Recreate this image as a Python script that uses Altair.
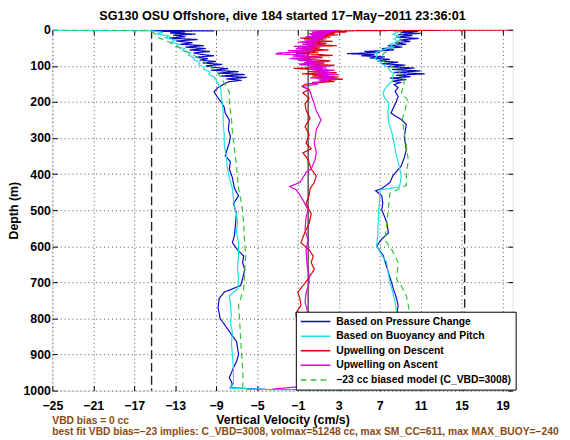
import altair as alt
import pandas as pd

F = "Liberation Sans"
TITLE = "SG130 OSU Offshore, dive 184 started 17\u2212May\u22122011 23:36:01"
NOTE1 = "VBD bias = 0 cc"
NOTE2 = ("best fit VBD bias=\u221223 implies: C_VBD=3008, volmax=51248 cc, "
         "max SM_CC=611, max MAX_BUOY=\u2212240")

names = ["Based on Pressure Change", "Based on Buoyancy and Pitch",
         "Upwelling on Descent", "Upwelling on Ascent",
         "\u221223 cc biased model (C_VBD=3008)"]
colors = ["#0a0ac0", "#22dde6", "#dd0000", "#dd00dd", "#33c433"]
dashes = [[1, 0], [1, 0], [1, 0], [1, 0], [6, 4]]

x_ticks = [-25, -21, -17, -13, -9, -5, -1, 3, 7, 11, 15, 19]
y_ticks = [0, 100, 200, 300, 400, 500, 600, 700, 800, 900, 1000]
guide_x = [-15.3, 15.3]
zero_x = [0, 0]
zero_depth = [0, 1000]

# (depth m, vertical velocity cm/s)
press_desc = [(2, -15.3), (3, -9.2), (4, -14.5), (6, -12.0), (9, -13.5), (12, -11.0),
              (15, -13.2), (19, -12.0), (23, -13.6), (27, -10.8), (31, -12.9), (36, -11.3),
              (40, -12.5), (44, -10.2), (48, -12.0), (52, -10.0), (56, -11.6), (60, -9.6),
              (64, -11.2), (68, -10.5), (72, -9.2), (76, -11.0), (80, -9.8), (84, -10.6),
              (88, -9.0), (92, -10.3), (96, -8.4), (100, -10.0), (104, -9.2), (108, -7.8),
              (112, -9.5), (116, -6.8), (120, -8.8), (124, -6.2), (128, -8.5), (132, -6.0),
              (136, -8.0), (140, -6.5), (144, -7.8), (150, -8.2), (160, -8.8), (172, -9.2),
              (185, -8.9), (200, -8.5), (215, -8.2), (231, -8.1), (250, -7.7), (276, -7.8),
              (295, -7.6), (313, -7.7), (330, -7.9), (349, -8.1), (365, -7.6), (386, -7.7),
              (410, -7.4), (440, -7.2), (460, -6.8), (482, -7.3), (508, -7.0), (540, -7.1),
              (570, -7.2), (590, -7.4), (610, -6.9), (627, -6.3), (645, -6.4), (664, -6.2),
              (690, -6.4), (709, -6.6), (727, -8.2), (745, -8.7), (770, -8.8), (800, -8.6),
              (820, -8.1), (836, -7.7), (864, -7.0), (900, -6.8), (920, -7.0), (937, -7.3),
              (964, -7.7), (982, -7.4), (992, -7.6), (997, -4.0), (997, 5.0)]
press_asc = [(2, 8.5), (4, 10.8), (7, 9.0), (10, 11.0), (13, 8.8), (16, 10.2), (20, 8.6),
             (24, 10.8), (28, 9.0), (32, 10.0), (36, 8.5), (40, 9.6), (44, 7.8), (48, 9.2),
             (52, 7.2), (56, 8.4), (60, 5.5), (63, 7.0), (66, 3.8), (69, 6.5), (72, 5.2),
             (75, 7.5), (78, 6.0), (82, 8.0), (86, 6.8), (90, 8.8), (94, 7.2), (98, 9.5),
             (102, 7.8), (106, 10.4), (110, 8.2), (114, 11.0), (118, 8.4), (122, 11.4),
             (126, 8.6), (130, 10.0), (134, 8.0), (138, 9.6), (142, 8.2), (146, 9.0),
             (152, 8.4), (160, 8.8), (170, 8.5), (185, 8.8), (200, 8.6), (212, 8.4),
             (231, 8.1), (249, 9.1), (262, 9.6), (280, 9.5), (295, 9.4), (315, 9.5),
             (332, 9.6), (355, 9.4), (377, 9.1), (404, 8.3), (423, 8.0), (440, 7.2),
             (446, 6.6), (460, 7.2), (480, 7.3), (499, 7.2), (520, 7.5), (536, 7.7),
             (563, 7.85), (580, 7.2), (599, 6.7), (612, 7.0), (627, 7.36), (650, 7.6),
             (673, 7.85), (695, 8.1), (718, 8.33), (740, 8.6), (764, 8.8), (782, 8.7),
             (810, 8.9), (850, 9.2), (900, 9.4), (950, 9.6), (990, 9.5)]

buoy_desc = [(1.5, -25.0), (3, -15.3), (7, -14.2), (12, -14.8), (17, -13.6), (22, -14.0),
             (28, -13.0), (34, -13.4), (40, -12.6), (46, -12.9), (52, -12.1), (58, -12.3),
             (64, -11.5), (70, -11.7), (77, -11.2), (84, -11.1), (90, -10.6), (97, -10.7),
             (104, -10.1), (110, -10.2), (117, -9.6), (124, -9.7), (131, -9.2), (140, -9.0),
             (150, -8.8), (160, -8.6), (172, -8.5), (182, -8.5), (200, -8.4), (230, -8.3),
             (260, -8.3), (290, -8.2), (320, -8.2), (350, -8.0), (380, -7.9), (410, -7.7),
             (440, -7.4), (470, -7.3), (491, -7.2), (510, -7.0), (536, -6.9), (560, -7.0),
             (590, -6.8), (627, -6.8), (660, -6.9), (690, -6.8), (718, -6.9), (737, -7.7),
             (760, -7.6), (790, -7.5), (809, -7.6), (840, -7.4), (870, -7.5), (900, -7.4),
             (940, -7.3), (982, -7.3), (993, -7.6), (998, -3.0), (998, 5.5)]
buoy_asc = [(2, 8.2), (6, 8.8), (12, 8.3), (18, 8.9), (25, 8.4), (32, 8.8), (40, 8.0),
            (48, 8.3), (56, 7.2), (64, 6.6), (72, 6.8), (80, 6.5), (86, 7.0), (94, 7.2),
            (104, 7.8), (114, 8.0), (122, 8.4), (131, 8.2), (140, 8.3), (150, 7.9),
            (160, 7.6), (175, 7.3), (190, 7.5), (203, 7.9), (230, 7.8), (260, 7.9),
            (286, 8.2), (314, 8.4), (345, 8.6), (377, 8.9), (404, 9.1), (425, 9.0),
            (436, 8.9), (444, 7.0), (470, 7.0), (500, 6.9), (536, 6.85), (570, 6.8),
            (599, 6.7), (625, 7.2), (645, 7.7), (670, 7.8), (700, 8.0), (730, 8.3),
            (755, 8.5), (782, 8.65), (830, 8.9), (880, 9.1), (930, 9.2), (990, 9.0)]

model_desc = [(0.5, -25.0), (2, -15.5), (10, -15.0), (21, -14.7), (35, -13.5), (45, -12.9),
              (57, -12.1), (70, -11.2), (80, -10.6), (92, -10.0), (103, -9.5), (113, -9.1),
              (125, -8.7), (137, -8.4), (149, -8.2), (172, -7.7), (204, -7.7), (240, -7.5),
              (285, -7.4), (330, -7.2), (376, -7.0), (410, -6.9), (440, -6.8), (490, -6.45),
              (540, -6.3), (590, -6.2), (627, -6.1), (670, -6.2), (718, -6.3), (764, -6.8),
              (800, -6.7), (855, -6.6), (900, -6.5), (940, -6.4), (974, -6.35), (993, -6.4),
              (997, -6.0), (997, 11.0)]
model_asc = [(1, 8.6), (5, 9.0), (15, 9.2), (25, 9.0), (35, 8.8), (45, 8.5), (55, 8.0),
             (65, 7.4), (75, 7.2), (86, 7.3), (96, 7.8), (108, 8.6), (120, 9.0), (131, 9.3),
             (145, 9.4), (158, 9.3), (176, 9.1), (193, 9.7), (220, 9.5), (249, 9.2),
             (285, 9.4), (322, 9.6), (363, 9.8), (399, 9.6), (431, 9.6), (453, 8.0),
             (480, 7.9), (536, 7.7), (582, 7.5), (610, 8.2), (645, 8.8), (691, 8.65),
             (715, 9.2), (737, 9.6), (764, 9.8), (800, 10.0), (850, 10.2), (900, 10.4),
             (950, 10.6), (990, 10.7)]

upw_desc = [(0.5, 20.5), (1.5, 11.0), (2.5, 4.8), (4, 2.5), (6, 3.8), (8, 1.2), (10, 2.6),
            (12, 0.2), (14, 2.9), (17, 0.6), (20, 2.2), (23, -0.8), (26, 1.5), (29, 0.3),
            (32, 2.4), (35, -0.5), (38, 1.8), (41, 0.2), (44, 2.8), (47, -1.0), (50, 1.2),
            (53, 0.0), (56, 2.0), (59, -0.6), (62, 1.0), (65, -1.2), (68, 0.8), (71, 2.4),
            (74, -0.4), (77, 1.4), (80, -1.6), (83, 0.6), (86, 2.2), (89, -0.2), (92, 1.6),
            (95, -0.9), (98, 2.6), (101, 0.2), (104, 1.4), (107, -1.4), (110, 0.5),
            (113, 2.0), (116, 0.0), (119, 2.8), (122, -0.6), (125, 1.8), (128, 0.4),
            (131, 3.0), (134, 0.8), (137, 3.4), (140, 1.2), (143, 2.6), (147, 0.8),
            (151, -0.3), (157, -0.6), (165, 0.1), (175, -0.5), (190, 0.1), (205, -0.3),
            (223, -0.2), (245, 0.2), (268, -0.3), (290, 0.1), (314, -0.2), (330, 0.3),
            (341, -0.5), (360, 0.0), (386, 0.3), (405, 0.8), (423, 0.6), (440, 0.2),
            (459, 0.1), (482, -0.2), (510, 0.3), (536, 0.1), (560, -0.3), (590, -0.7),
            (610, 0.1), (627, 0.5), (645, 0.3), (664, 0.6), (690, 0.0), (709, -0.5),
            (727, -1.0), (745, -0.8), (764, -0.7), (785, -1.2), (809, -1.1), (830, -0.6),
            (846, -0.5), (880, -0.3), (920, -0.4), (964, -0.4), (985, -0.5), (991, 0.4),
            (995, 1.3)]

upw_asc = [(1.5, 3.0), (3, 0.2), (5, 2.6), (7, 0.4), (9, 2.2), (11, 0.0), (13, 1.8),
           (15, 0.3), (17, 1.6), (19, -0.2), (21, 1.4), (23, 0.2), (25, 1.8), (28, -0.4),
           (31, 1.2), (34, -1.0), (37, 1.0), (40, -0.6), (43, 1.6), (46, -1.4), (49, 0.8),
           (52, -1.2), (55, 1.0), (58, -2.0), (61, 0.4), (64, -2.8), (67, -3.2), (70, 0.0),
           (73, -1.5), (76, 1.2), (79, -1.8), (82, 0.6), (85, -1.0), (88, 2.0), (91, -0.4),
           (94, 1.4), (97, -0.8), (100, 2.4), (103, 0.2), (106, 1.8), (109, 0.0),
           (112, 2.6), (115, 0.4), (118, 2.2), (121, 0.6), (124, 3.0), (127, 0.8),
           (130, 2.4), (133, 0.2), (136, 2.8), (139, 1.0), (142, 2.0), (146, 0.4),
           (150, 1.0), (157, -0.5), (170, 0.2), (190, 0.4), (205, 0.6), (223, 0.78),
           (250, 1.26), (277, 0.8), (300, 0.7), (314, 0.6), (340, 0.8), (359, 0.7),
           (386, 0.3), (395, -0.2), (405, -0.4), (423, -0.8), (434, -1.8), (444, -1.15),
           (458, -0.8), (472, -0.5), (499, 0.0), (520, -0.2), (554, -0.3), (582, 0.0),
           (610, -0.2), (654, -0.1), (680, 0.1), (700, 0.1), (730, -0.2), (755, -0.3),
           (775, -0.1), (800, 0.0), (836, -0.4), (880, -0.2), (930, -0.3), (975, -0.4),
           (990, -1.2), (996, -3.5)]


def rows(name, desc, asc=None):
    path = list(desc) + (list(reversed(asc)) if asc else [])
    return [{"series": name, "seq": i, "depth": d, "vel": v} for i, (d, v) in enumerate(path)]


recs = (rows(names[0], press_desc, press_asc) + rows(names[1], buoy_desc, buoy_asc)
        + rows(names[2], upw_desc) + rows(names[3], upw_asc)
        + rows(names[4], model_desc, model_asc))
df = pd.DataFrame(recs)

xscale = alt.Scale(domain=[-25, 20], nice=False, zero=False)
yscale = alt.Scale(domain=[0, 1000], reverse=True, nice=False, zero=False)

common_axis = dict(labelFont=F, labelFontSize=12.5, labelFontWeight="bold", labelColor="black",
                   titleFont=F, titleFontSize=12.5, titleFontWeight="bold", titleColor="black",
                   grid=True, gridDash=[1, 3], gridColor="#555555", gridWidth=1,
                   domain=False, tickColor="black", tickSize=5, tickWidth=1, offset=-5,
                   labelOverlap=False, labelFlush=False, format="d")

x_axis = alt.Axis(values=x_ticks, title="Vertical Velocity (cm/s)", titlePadding=2,
                  labelPadding=9, **common_axis)
y_axis = alt.Axis(values=y_ticks, title="Depth (m)", titlePadding=3,
                  labelPadding=2, **common_axis)

lines = alt.Chart(df).mark_line(strokeWidth=1.2, clip=True).encode(
    x=alt.X("vel:Q", scale=xscale, axis=x_axis),
    y=alt.Y("depth:Q", scale=yscale, axis=y_axis),
    order="seq:Q",
    color=alt.Color("series:N", sort=names,
                    scale=alt.Scale(domain=names, range=colors),
                    legend=alt.Legend(title=None, orient="none", legendX=247, legendY=286,
                                      symbolType="M-1,0H5", symbolSize=100,
                                      symbolStrokeWidth=1.5, labelFont=F, labelFontSize=10.5,
                                      labelFontWeight="bold", labelColor="black",
                                      labelLimit=400, fillColor="white", strokeColor="black",
                                      padding=4, rowPadding=2.8, labelOffset=25)),
    strokeDash=alt.StrokeDash("series:N", sort=names,
                              scale=alt.Scale(domain=names, range=dashes)),
)

guides = alt.Chart(pd.DataFrame({"gx": guide_x})).mark_rule(
    color="#222222", strokeWidth=1.4, strokeDash=[9, 4]).encode(
    x=alt.X("gx:Q", scale=xscale, axis=None))

frame_axis = dict(labels=False, title=None, grid=False, domain=False, tickColor="black",
                  tickSize=5, offset=-5)
zero = alt.Chart(pd.DataFrame({"zx": zero_x, "zd": zero_depth})).mark_line(
    color="black", strokeWidth=1).encode(
    x=alt.X("zx:Q", scale=xscale, axis=alt.Axis(orient="top", values=x_ticks, **frame_axis)),
    y=alt.Y("zd:Q", scale=yscale, axis=alt.Axis(orient="right", values=y_ticks, **frame_axis)))

one = alt.Data(values=[{}])
note_style = dict(align="left", baseline="alphabetic", font=F, fontSize=10.4,
                  fontWeight="bold", color="#8a4a14")
note1 = alt.Chart(one).mark_text(**note_style).encode(
    x=alt.value(0), y=alt.value(400), text=alt.value(NOTE1))
note2 = alt.Chart(one).mark_text(**note_style).encode(
    x=alt.value(0), y=alt.value(411), text=alt.value(NOTE2))

chart = alt.layer(guides, zero, lines, note1, note2).resolve_axis(
    x="independent", y="independent").properties(
    width=467, height=366,
    title=alt.Title(TITLE, font=F, fontSize=12.8, fontWeight="bold", color="black",
                    anchor="middle", offset=1),
    autosize=alt.AutoSizeParams(type="none"),
    padding={"left": 45, "top": 19, "right": 50, "bottom": 47},
).configure_view(stroke="#222222", strokeWidth=1).configure(background="white")

chart.save("out.html", embed_options={"renderer": "svg", "actions": False})
